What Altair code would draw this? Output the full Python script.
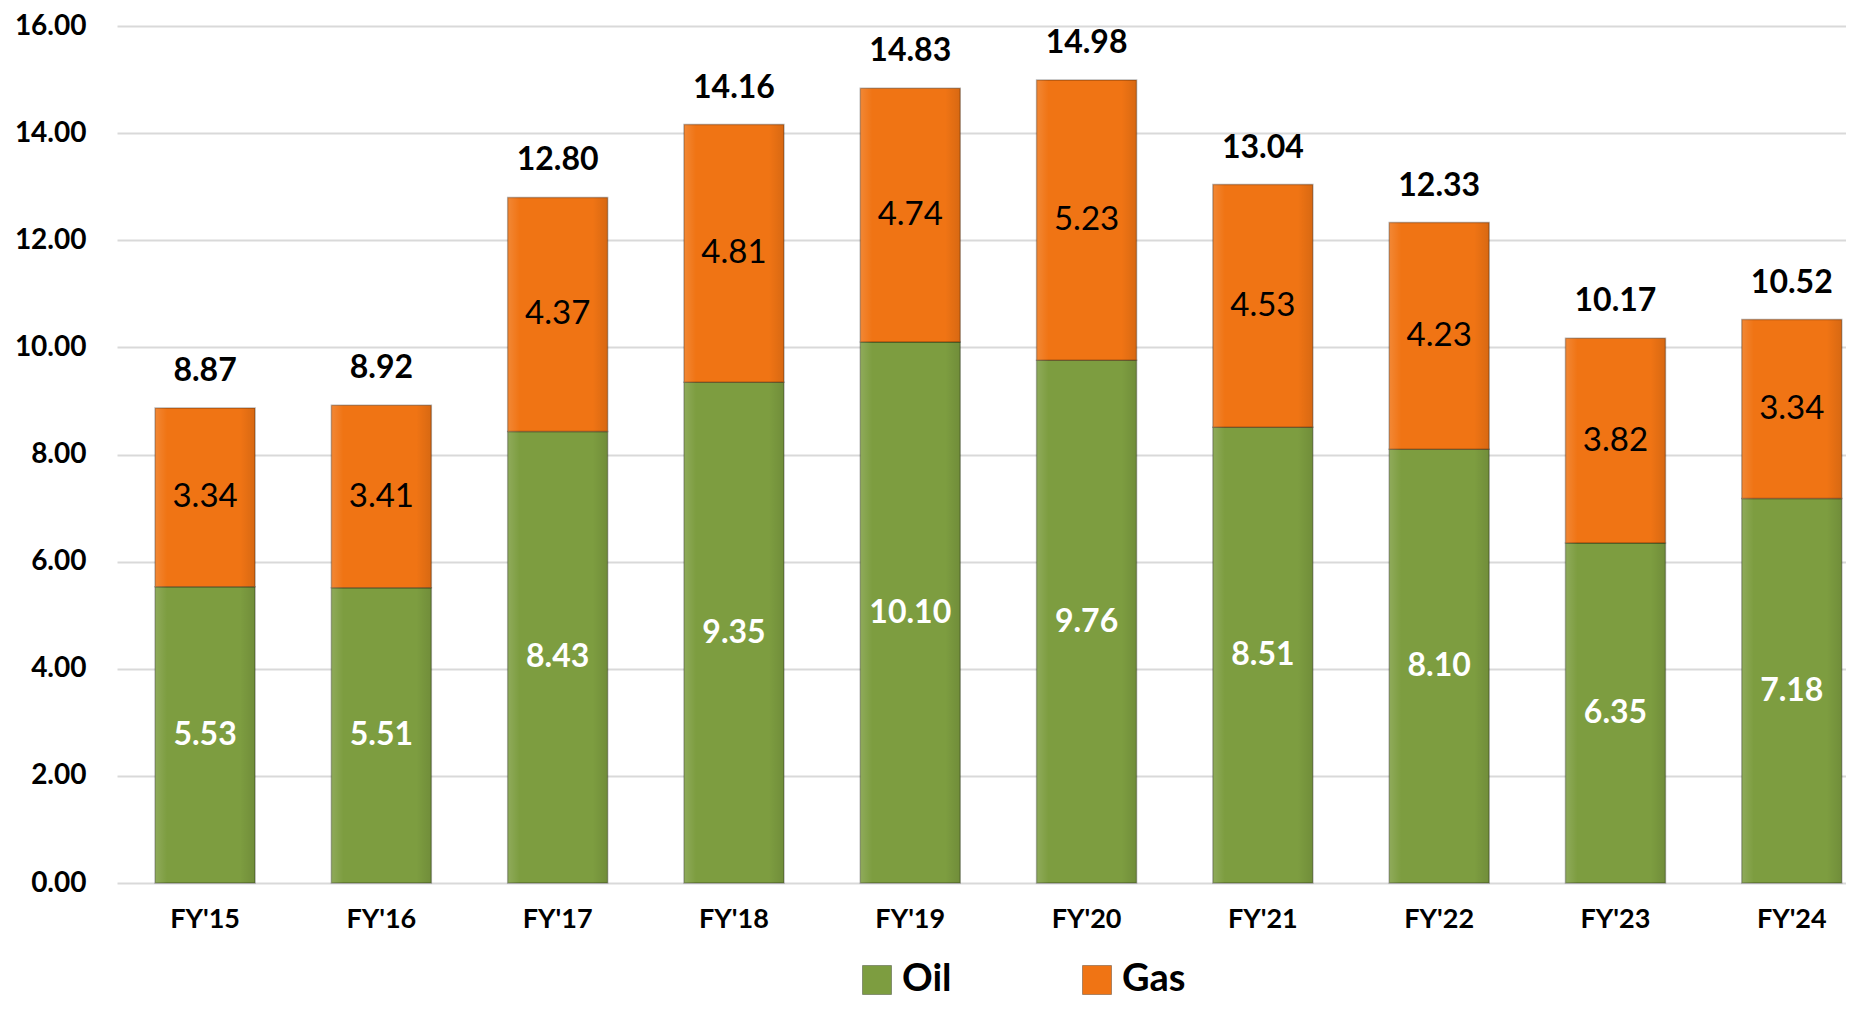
import altair as alt
import pandas as pd

years = ["FY'15", "FY'16", "FY'17", "FY'18", "FY'19", "FY'20", "FY'21", "FY'22", "FY'23", "FY'24"]
oil = [5.53, 5.51, 8.43, 9.35, 10.10, 9.76, 8.51, 8.10, 6.35, 7.18]
gas = [3.34, 3.41, 4.37, 4.81, 4.74, 5.23, 4.53, 4.23, 3.82, 3.34]
totals = [8.87, 8.92, 12.80, 14.16, 14.83, 14.98, 13.04, 12.33, 10.17, 10.52]
series = ["Oil", "Gas"]
colors = ["#7D9D40", "#F07414"]
y_ticks = [0, 2, 4, 6, 8, 10, 12, 14, 16]

rows = []
for yr, o, g in zip(years, oil, gas):
    rows.append({"year": yr, "type": "Oil", "value": o, "ord": 0, "mid": o / 2, "label": f"{o:.2f}"})
    rows.append({"year": yr, "type": "Gas", "value": g, "ord": 1, "mid": o + g / 2, "label": f"{g:.2f}"})
df = pd.DataFrame(rows)
tot = pd.DataFrame({
    "year": years,
    "top": [o + g for o, g in zip(oil, gas)],
    "label": [f"{t:.2f}" for t in totals],
})

FONT = "Lato"

x_enc = alt.X(
    "year:N", sort=years,
    scale=alt.Scale(paddingInner=0.433, paddingOuter=0.12, align=0.9),
    axis=alt.Axis(title=None, labelAngle=0, domain=False, ticks=False, tickSize=0,
                  labelFont=FONT, labelFontWeight="bold", labelFontSize=27,
                  labelColor="#000000", labelPadding=23, grid=False),
)
y_scale = alt.Scale(domain=[0, 16], nice=False)
y_stack = alt.Y("value:Q", stack="zero", scale=y_scale,
                axis=alt.Axis(values=y_ticks, format=".2f", title=None, grid=True,
                              gridColor="#D9D9D9", gridWidth=2, domain=False, ticks=False,
                              tickSize=0, labelPadding=31, labelFont=FONT,
                              labelFontWeight="bold", labelFontSize=28, labelColor="#000000"))

bars = alt.Chart(df).mark_bar(stroke="rgba(0,0,0,0.28)", strokeWidth=1.5).encode(
    x=x_enc,
    y=y_stack,
    color=alt.Color("type:N", scale=alt.Scale(domain=series, range=colors),
                    legend=alt.Legend(orient="none", legendX=741, legendY=935,
                                      direction="horizontal", title=None,
                                      symbolType="square", symbolSize=841,
                                      symbolOpacity=1, symbolStrokeColor="rgba(0,0,0,0.3)",
                                      symbolStrokeWidth=1,
                                      labelFont=FONT, labelFontWeight="bold",
                                      labelFontSize=38, labelColor="#000000",
                                      labelOffset=6, columnPadding=126)),
    order=alt.Order("ord:Q"),
)

shade = alt.Chart(df).mark_bar(
    fill=alt.Gradient(
        gradient="linear", x1=0, x2=1, y1=0, y2=0,
        stops=[
            alt.GradientStop(color="rgba(255,255,255,0.14)", offset=0),
            alt.GradientStop(color="rgba(255,255,255,0.0)", offset=0.12),
            alt.GradientStop(color="rgba(0,0,0,0.0)", offset=0.85),
            alt.GradientStop(color="rgba(0,0,0,0.10)", offset=1),
        ],
    ),
    strokeWidth=0,
).encode(x=alt.X("year:N", sort=years), y=alt.Y("value:Q", stack="zero", scale=y_scale),
         order=alt.Order("ord:Q"), detail="type:N")

oil_txt = alt.Chart(df).transform_filter(alt.datum.type == "Oil").mark_text(
    font=FONT, fontSize=32, fontWeight="bold", color="#FFFFFF", baseline="middle"
).encode(x=alt.X("year:N", sort=years), y=alt.Y("mid:Q", scale=y_scale), text="label:N")

gas_txt = alt.Chart(df).transform_filter(alt.datum.type == "Gas").mark_text(
    font=FONT, fontSize=33, color="#000000", baseline="middle"
).encode(x=alt.X("year:N", sort=years), y=alt.Y("mid:Q", scale=y_scale), text="label:N")

tot_txt = alt.Chart(tot).mark_text(
    font=FONT, fontSize=32, fontWeight="bold", color="#000000",
    baseline="alphabetic", dy=-27
).encode(x=alt.X("year:N", sort=years), y=alt.Y("top:Q", scale=y_scale), text="label:N")

chart = alt.layer(bars, shade, oil_txt, gas_txt, tot_txt).properties(
    width=1729, height=857,
    autosize=alt.AutoSizeParams(type="none"),
    padding={"left": 109, "top": 18, "right": 0, "bottom": 119},
    background="#FFFFFF",
).configure_view(stroke=None)

chart.save("out.html", embed_options={"renderer": "svg", "actions": False})
